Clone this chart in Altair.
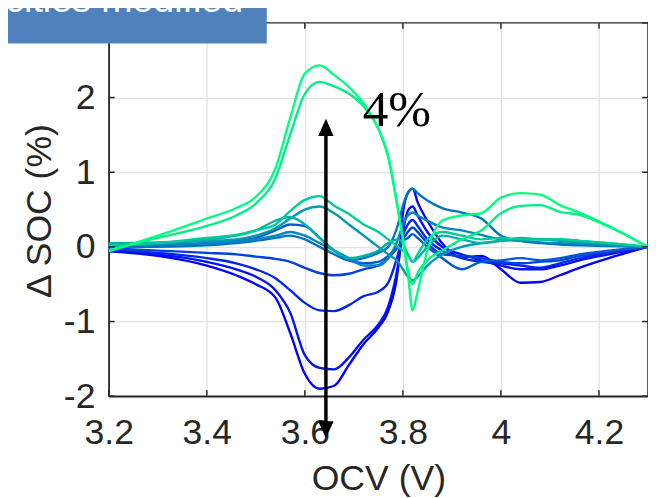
import altair as alt
import pandas as pd

# ---- data ----
OCV = [3.20, 3.30, 3.40, 3.46, 3.50, 3.54, 3.57, 3.60, 3.63, 3.66, 3.69, 3.72, 3.75, 3.77, 3.79,
       3.80, 3.81, 3.82, 3.83, 3.85, 3.88, 3.92, 3.96, 4.00, 4.04, 4.08, 4.12, 4.16, 4.22, 4.30]

B1 = [-0.06, -0.12, -0.25, -0.38, -0.50, -0.68, -1.15, -1.70, -1.90, -1.86, -1.58, -1.30, -1.08, -0.86, -0.30,
      0.45, 0.72, 0.78, 0.60, 0.35, 0.05, -0.14, -0.12, -0.30, -0.48, -0.47, -0.38, -0.28, -0.15, 0.0]
B2 = [-0.05, -0.10, -0.20, -0.30, -0.40, -0.58, -0.88, -1.45, -1.62, -1.64, -1.48, -1.24, -1.04, -0.80, -0.25,
      0.20, 0.48, 0.54, 0.42, 0.20, 0.00, -0.10, -0.18, -0.25, -0.30, -0.30, -0.25, -0.18, -0.10, 0.0]
B3 = [-0.04, -0.08, -0.15, -0.22, -0.30, -0.42, -0.58, -0.75, -0.85, -0.86, -0.78, -0.66, -0.60, -0.48, -0.10,
      0.15, 0.30, 0.36, 0.28, 0.10, -0.05, -0.15, -0.20, -0.22, -0.25, -0.28, -0.22, -0.15, -0.08, 0.0]
C4 = [-0.02, -0.05, -0.08, -0.10, -0.13, -0.16, -0.20, -0.28, -0.35, -0.38, -0.36, -0.30, -0.25, -0.15, 0.00,
      0.10, 0.20, 0.26, 0.20, 0.05, -0.10, -0.12, -0.15, -0.20, -0.22, -0.20, -0.18, -0.12, -0.06, 0.0]
C5 = [0.00, 0.02, 0.05, 0.08, 0.12, 0.22, 0.30, 0.28, 0.12, -0.05, -0.18, -0.22, -0.20, -0.12, 0.00,
      0.08, 0.12, 0.17, 0.12, 0.00, -0.15, -0.30, -0.20, -0.18, -0.15, -0.18, -0.15, -0.10, -0.05, 0.0]
C6 = [0.00, 0.00, 0.02, 0.05, 0.08, 0.12, 0.15, 0.10, 0.00, -0.10, -0.18, -0.15, -0.08, 0.00, 0.30,
      0.55, 0.72, 0.78, 0.72, 0.62, 0.52, 0.46, 0.38, 0.15, 0.08, 0.05, 0.03, 0.02, 0.01, 0.0]
C7 = [0.02, 0.03, 0.05, 0.07, 0.10, 0.15, 0.20, 0.15, 0.05, -0.05, -0.15, -0.25, -0.25, -0.15, 0.10,
      0.30, 0.42, 0.46, 0.42, 0.35, 0.26, 0.22, 0.16, 0.10, 0.08, 0.06, 0.05, 0.04, 0.02, 0.0]
C8 = [0.03, 0.05, 0.08, 0.10, 0.15, 0.25, 0.38, 0.50, 0.54, 0.45, 0.30, 0.15, 0.00, -0.10, -0.20,
      -0.30, -0.40, -0.45, -0.40, -0.25, -0.10, 0.00, 0.05, 0.08, 0.10, 0.10, 0.08, 0.06, 0.03, 0.0]
C9 = [0.05, 0.06, 0.10, 0.15, 0.22, 0.35, 0.40, 0.30, 0.12, -0.05, -0.15, -0.12, -0.05, 0.05, 0.10,
      0.05, -0.10, -0.20, -0.15, 0.00, 0.15, 0.10, 0.05, 0.08, 0.12, 0.10, 0.10, 0.08, 0.05, 0.0]
C10 = [0.02, 0.05, 0.12, 0.16, 0.22, 0.30, 0.48, 0.63, 0.68, 0.55, 0.44, 0.30, 0.20, 0.10, 0.00,
       -0.05, -0.10, -0.20, -0.10, 0.10, 0.20, 0.15, 0.10, 0.12, 0.10, 0.10, 0.10, 0.08, 0.05, 0.0]
G2 = [-0.04, 0.12, 0.28, 0.42, 0.58, 0.92, 1.50, 2.05, 2.21, 2.15, 2.05, 1.88, 1.58, 1.20, 0.50,
      0.10, -0.30, -0.50, -0.35, -0.18, -0.05, 0.10, 0.22, 0.45, 0.55, 0.56, 0.47, 0.43, 0.27, 0.0]
G1 = [-0.06, 0.15, 0.38, 0.52, 0.67, 1.05, 1.72, 2.32, 2.43, 2.30, 2.14, 1.92, 1.58, 1.22, 0.50,
      0.10, -0.35, -0.85, -0.60, -0.05, 0.35, 0.42, 0.45, 0.66, 0.72, 0.70, 0.56, 0.46, 0.28, 0.0]

SERIES = ["B1", "B2", "B3", "C4", "C5", "C6", "C7", "C8", "C9", "C10", "G2", "G1"]
VALUES = [B1, B2, B3, C4, C5, C6, C7, C8, C9, C10, G2, G1]
# position of each curve on MATLAB's "winter" colormap (0 = blue, 1 = spring green)
WINTER_T = [0.0, 0.07, 0.15, 0.25, 0.35, 0.45, 0.52, 0.60, 0.70, 0.80, 0.93, 1.0]

X_TICKS = [3.2, 3.4, 3.6, 3.8, 4.0, 4.2]
Y_TICKS = [-2, -1, 0, 1, 2]
ALL_Y_TICKS = [-2, -1, 0, 1, 2, 3]

ARROW_X = 3.643
ARROW_TOP = 1.52
ARROW_BOTTOM = -2.36
HEAD_UP_Y = 1.60
HEAD_DOWN_Y = -2.45

LABEL_TEXT = "4%"
LABEL_X = 3.718
LABEL_Y = 1.62

BOX_TEXT = "Capacities modified"

W, H = 546, 378
FS = 36


def winter(t):
    return "#%02x%02x%02x" % (0, round(255 * t), round(255 - 127.5 * t))


rows = []
for i, (name, ys) in enumerate(zip(SERIES, VALUES)):
    for x, y in zip(OCV, ys):
        rows.append({"series": name, "ocv": x, "dsoc": y, "k": i})
df = pd.DataFrame(rows)
colors = [winter(t) for t in WINTER_T]

xscale = alt.Scale(domain=[3.2, 4.3], nice=False, zero=False)
yscale = alt.Scale(domain=[-2, 3], nice=False, zero=False)

x_axis = alt.Axis(values=X_TICKS, labelExpr="toString(datum.value)", title="OCV (V)",
                  grid=True, ticks=False, labelPadding=20, labelFlush=False,
                  titleX=W / 2, titleY=83, titleBaseline="middle", titleAlign="center")
y_axis = alt.Axis(values=Y_TICKS, labelExpr="toString(datum.value)", title="Δ SOC (%)",
                  grid=True, ticks=False, labelPadding=14, labelFlush=False,
                  titleX=-70, titleY=H / 2 + 1, titleBaseline="middle", titleAlign="center")


def X(field):
    return alt.X(field, scale=xscale, axis=x_axis, title="OCV (V)")


def Y(field):
    return alt.Y(field, scale=yscale, axis=y_axis, title="Δ SOC (%)")


lines = alt.Chart(df).mark_line(strokeWidth=2.4, interpolate="monotone").encode(
    x=X("ocv:Q"),
    y=Y("dsoc:Q"),
    color=alt.Color("series:N", scale=alt.Scale(domain=SERIES, range=colors), legend=None),
    order=alt.Order("k:Q"),
)

xt = pd.DataFrame({"v": X_TICKS})
yt = pd.DataFrame({"v": ALL_Y_TICKS})
tick_color = "#262626"
bottom_ticks = alt.Chart(xt).mark_rule(color=tick_color, strokeWidth=1.5).encode(
    x=X("v:Q"), y=alt.value(H), y2=alt.value(H - 6))
top_ticks = alt.Chart(xt).mark_rule(color=tick_color, strokeWidth=1.5).encode(
    x=X("v:Q"), y=alt.value(0), y2=alt.value(6))
left_ticks = alt.Chart(yt).mark_rule(color=tick_color, strokeWidth=1.5).encode(
    y=Y("v:Q"), x=alt.value(0), x2=alt.value(6))
right_ticks = alt.Chart(yt).mark_rule(color=tick_color, strokeWidth=1.5).encode(
    y=Y("v:Q"), x=alt.value(W), x2=alt.value(W - 6))

arrow_df = pd.DataFrame({"x": [ARROW_X], "y1": [ARROW_TOP], "y2": [ARROW_BOTTOM]})
shaft = alt.Chart(arrow_df).mark_rule(color="black", strokeWidth=3.5).encode(
    x=X("x:Q"), y=Y("y1:Q"), y2="y2:Q")
head_up = alt.Chart(pd.DataFrame({"x": [ARROW_X], "y": [HEAD_UP_Y]})).mark_point(
    shape="M0,-1L-0.9,1L0.9,1Z", size=300, filled=True, color="black", opacity=1, strokeWidth=0).encode(
    x=X("x:Q"), y=Y("y:Q"))
head_down = alt.Chart(pd.DataFrame({"x": [ARROW_X], "y": [HEAD_DOWN_Y]})).mark_point(
    shape="M0,1L-0.9,-1L0.9,-1Z", size=300, filled=True, color="black", opacity=1, strokeWidth=0).encode(
    x=X("x:Q"), y=Y("y:Q"))

label = alt.Chart(pd.DataFrame({"x": [LABEL_X], "y": [LABEL_Y], "t": [LABEL_TEXT]})).mark_text(
    font="Liberation Serif", fontSize=52, align="left", baseline="alphabetic", color="black").encode(
    x=X("x:Q"), y=Y("y:Q"), text="t:N")

box_df = pd.DataFrame({"t": [BOX_TEXT]})
box = alt.Chart(box_df).mark_rect(color="#4f81bd").encode(
    x=alt.value(-110), x2=alt.value(160), y=alt.value(-20), y2=alt.value(21))
box_text = alt.Chart(box_df).mark_text(
    font="Liberation Sans", fontSize=38, align="right", baseline="alphabetic", color="white").encode(
    x=alt.value(136), y=alt.value(-11), text="t:N")

chart = alt.layer(
    lines, bottom_ticks, top_ticks, left_ticks, right_ticks,
    shaft, head_up, head_down, label, box, box_text
).properties(
    width=W, height=H,
    autosize="none",
    padding={"left": 102, "top": 12, "right": 0, "bottom": 100},
    background="white",
).configure_view(
    stroke="#262626", strokeWidth=1.5
).configure_axis(
    domainColor="#262626", domainWidth=1.5,
    gridColor="#e2e2e2", gridWidth=1.3,
    labelFont="Liberation Sans", labelFontSize=FS, labelColor="#262626",
    titleFont="Liberation Sans", titleFontSize=FS, titleColor="#262626", titleFontWeight="normal",
)

chart.save("out.html", embed_options={"renderer": "svg", "actions": False})
